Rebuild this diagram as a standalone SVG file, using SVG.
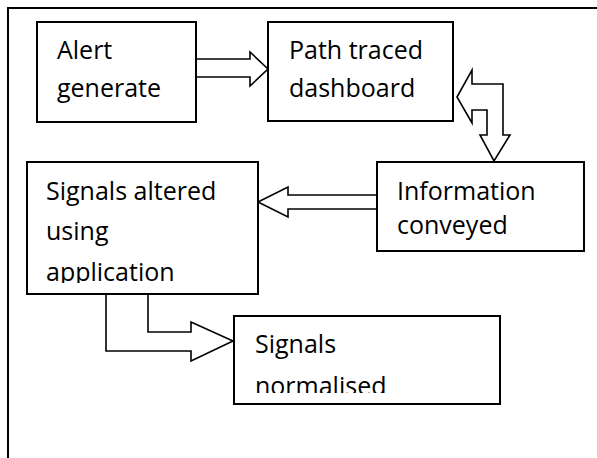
<svg xmlns="http://www.w3.org/2000/svg" width="597" height="458" viewBox="0 0 597 458">
<style>
.box{fill:#fff;stroke:#000;stroke-width:2}
.arr{fill:#fff;stroke:#000;stroke-width:1.6;stroke-linejoin:miter}
.t{font-family:"Open Sans","Noto Sans",sans-serif;font-size:25px;fill:#000}
</style>
<defs>
<clipPath id="c4"><rect x="27" y="162" width="231" height="121"/></clipPath>
<clipPath id="c5"><rect x="234" y="316" width="266" height="77"/></clipPath>
</defs>
<rect width="597" height="458" fill="#fff"/>
<g id="frame"><path d="M8,458 V8 H597" fill="none" stroke="#000" stroke-width="2"/></g>
<g id="connectors">
<path class="arr" d="M196,59 H250 V52 L268,69 L250,86 V77 H196"/>
<path class="arr" d="M457,97 L472,70 V84 H503 V135 H510 L494,161 L480,135 H487 V110 H472 V123 Z"/>
<path class="arr" d="M377,195 H288 V187 L258,202 L288,217 V209 H377"/>
<path class="arr" d="M106,294 V351 H191 V361 L233,341 L191,322 V332 H148 V294"/>
</g>
<g id="n1"><rect class="box" x="37" y="22" width="159" height="100"/>
<text class="t" x="57" y="59">Alert</text><text class="t" x="57" y="97">generate</text></g>
<g id="n2"><rect class="box" x="268" y="22" width="185" height="99"/>
<text class="t" x="289" y="59">Path traced</text><text class="t" x="289" y="97">dashboard</text></g>
<g id="n3"><rect class="box" x="377" y="162" width="207" height="89"/>
<text class="t" x="397" y="200">Information</text><text class="t" x="397" y="234">conveyed</text></g>
<g id="n4"><rect class="box" x="27" y="162" width="231" height="132"/>
<g clip-path="url(#c4)"><text class="t" x="46" y="200">Signals altered</text><text class="t" x="46" y="240">using</text><text class="t" x="46" y="281">application</text></g></g>
<g id="n5"><rect class="box" x="234" y="316" width="266" height="88"/>
<g clip-path="url(#c5)"><text class="t" x="255" y="353">Signals</text><text class="t" x="255" y="395">normalised</text></g></g>
</svg>
